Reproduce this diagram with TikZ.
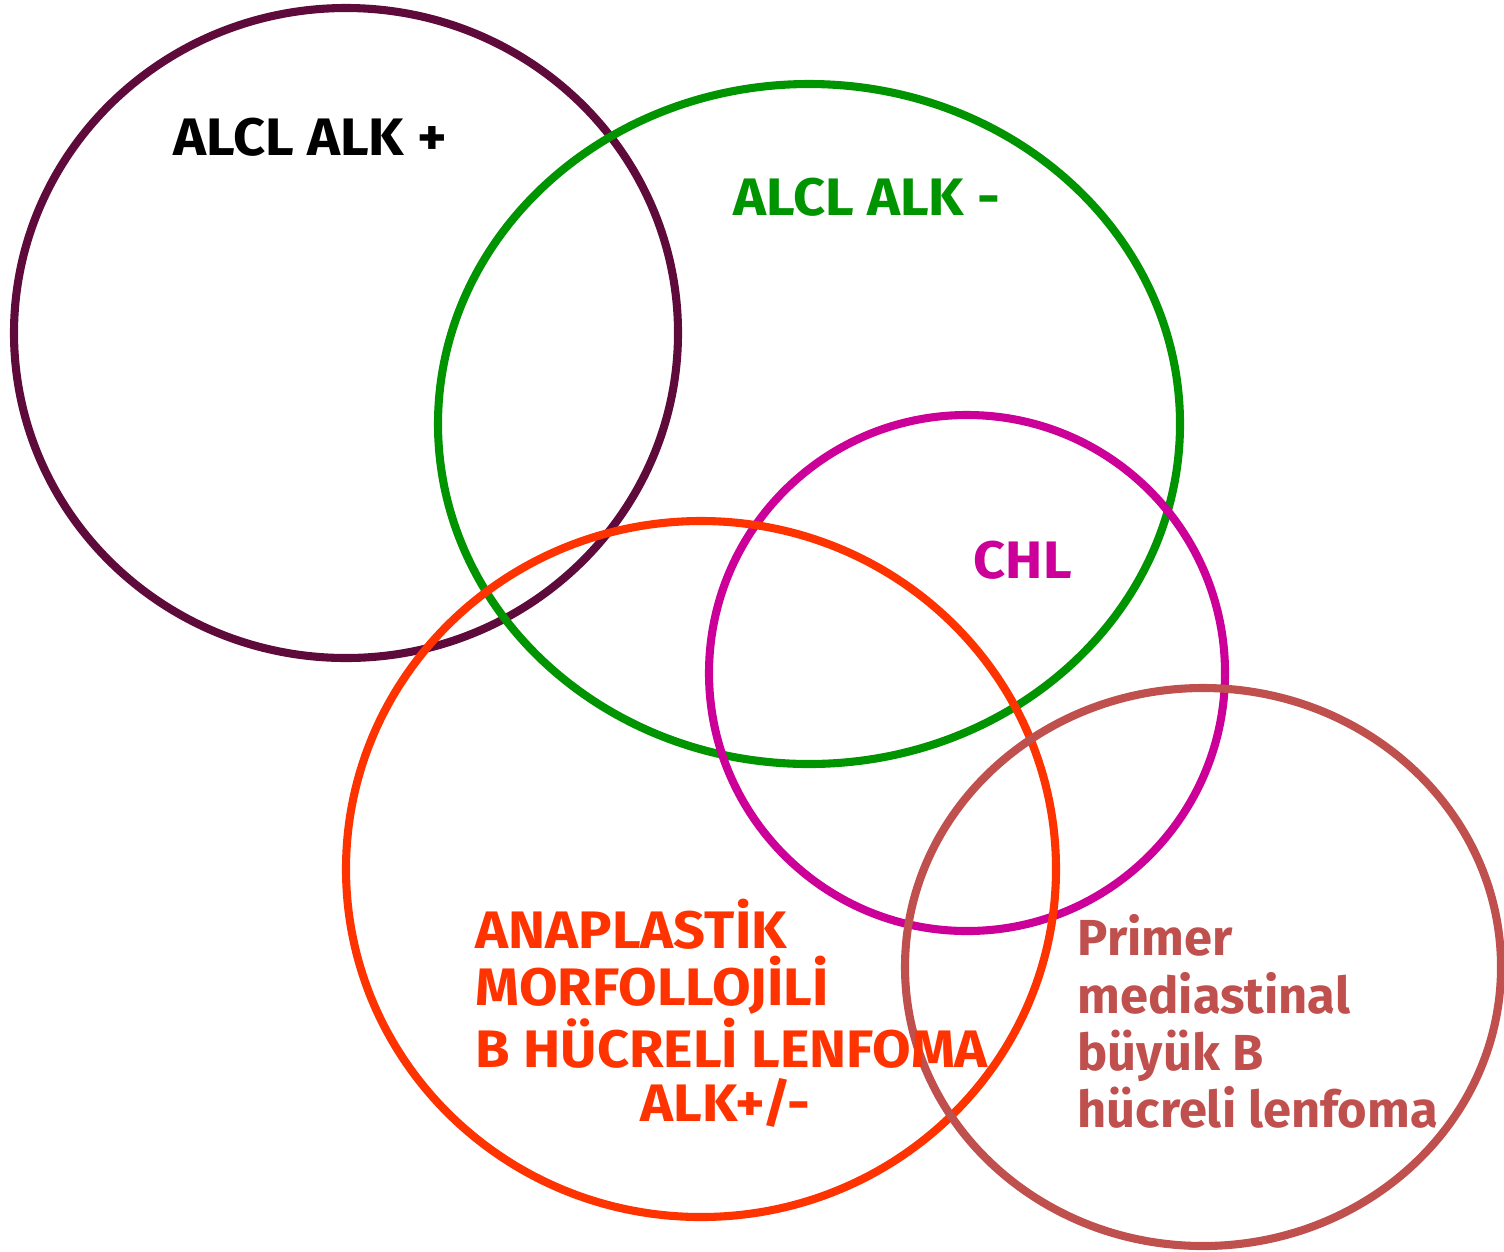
\documentclass[tikz,border=0pt]{standalone}
\usepackage{fontspec}
\setmainfont{Fira Sans}
\newfontfamily\widefont[FakeStretch=1.06]{Fira Sans}
\definecolor{plum}{HTML}{5E0A3A}
\definecolor{leaf}{HTML}{009400}
\definecolor{orchid}{HTML}{CC0099}
\definecolor{flame}{HTML}{FF3300}
\definecolor{brick}{HTML}{C0504D}
\begin{document}
\begin{tikzpicture}[x=0.01cm,y=-0.01cm,
  ring/.style={line width=2.3pt},
  lbl/.style={font=\widefont\bfseries\fontsize{15}{16.3}\selectfont, inner sep=0pt, anchor=west, align=left}]
\useasboundingbox[fill=white] (0,0) rectangle (1504,1251);
% sets
\draw[ring, plum]   (346,333) ellipse [x radius=332, y radius=325];
\draw[ring, leaf]   (809,424) ellipse [x radius=371, y radius=340];
\draw[ring, orchid] (967,673) ellipse [x radius=258, y radius=258];
\draw[ring, flame]  (701,869) ellipse [x radius=355, y radius=348];
\draw[ring, brick]  (1203,967) ellipse [x radius=298, y radius=279];
% labels
\node[lbl, black]  (alkpos) at (173,137) {ALCL ALK +};
\node[lbl, leaf]   (alkneg) at (733,197) {ALCL ALK -};
\node[lbl, orchid] (chl)    at (973,560) {CHL};
\node[lbl, flame, anchor=north west] (abcl) at (475,898) {ANAPLASTİK\\MORFOLLOJİLİ\\B HÜCRELİ LENFOMA};
\node[lbl, flame]  (abclalk) at (640,1103) {ALK+/-};
\node[lbl, brick, anchor=north west, font=\bfseries\fontsize{14.4}{16.3}\selectfont] (pmbl) at (1077,914) {Primer\\mediastinal\\büyük B\\hücreli lenfoma};
\end{tikzpicture}
\end{document}
